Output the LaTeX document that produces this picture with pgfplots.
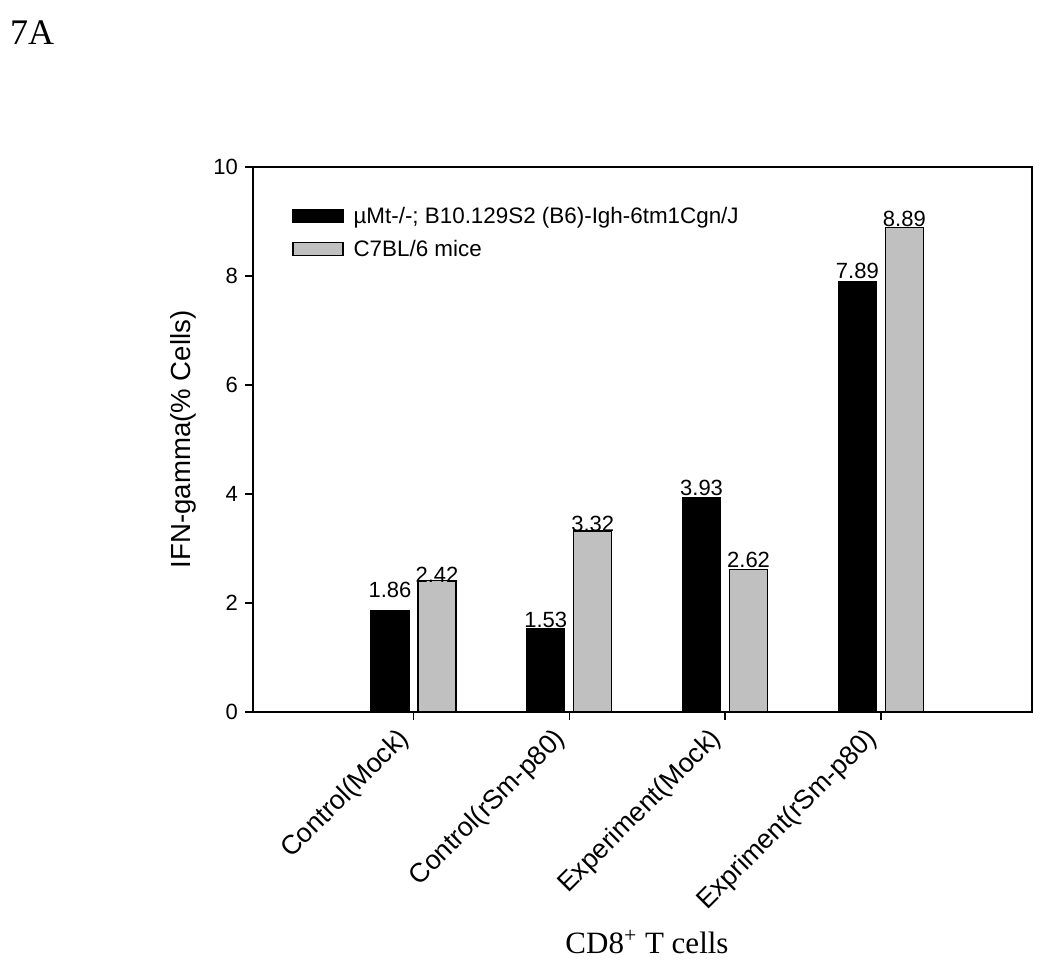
\documentclass[border=0pt]{standalone}
\usepackage{fontspec}
\setmainfont{Liberation Sans}
\newfontfamily\timesfont{Liberation Serif}
\usepackage{pgfplots}
\pgfplotsset{compat=1.18}
\definecolor{bargray}{RGB}{192,192,192}
\pgfplotstableread{
x y dy
1 1.86 6
2 1.53 0
3 3.93 0.5
4 7.89 1.5
}\blackdata
\pgfplotstableread{
x y dy
1 2.42 -1.5
2 3.32 -0.5
3 2.62 0.5
4 8.89 0
}\graydata
\begin{document}
\begin{tikzpicture}[x=1pt,y=1pt]
\path[use as bounding box] (0,0) rectangle (525,484);
\node[font=\timesfont\fontsize{18}{20}\selectfont] at (16,467.5) {7A};
\begin{axis}[
  at={(126.5pt,128pt)}, anchor=south west,
  scale only axis, width=389.5pt, height=272.5pt,
  xmin=-0.03, xmax=4.97, ymin=0, ymax=10,
  xtick={1,2,3,4},
  xticklabels={Control(Mock),Control(rSm-p80),Experiment(Mock),Expriment(rSm-p80)},
  ytick={0,2,4,6,8,10},
  xtick pos=bottom, ytick pos=left,
  tick align=outside, major tick length=4pt,
  axis line style={line width=0.8pt},
  every tick/.style={line width=0.7pt, black},
  /pgf/number format/assume math mode=true,
  yticklabel style={font=\fontsize{11}{13}\selectfont, xshift=0pt},
  xticklabel style={rotate=45, anchor=north east, font=\fontsize{13.4}{15}\selectfont, inner sep=1pt, xshift=-7pt, yshift=5pt},
  ylabel={IFN-gamma(\% Cells)},
  ylabel style={at={(axis description cs:-0.09,0.5)}, anchor=center, font=\fontsize{13.8}{16}\selectfont},
  ybar, bar width=19pt,
  legend style={draw=none, fill=none, at={(axis description cs:0.05,0.935)}, anchor=north west,
    inner sep=0pt, row sep=3pt, font=\fontsize{11.2}{13}\selectfont, legend cell align=left},
  legend image code/.code={\draw[#1, bar shift=0pt] (0pt,-3pt) rectangle (25pt,3.5pt); \path (28pt,0pt);},
  nodes near coords={\pgfmathprintnumber[fixed,fixed zerofill,precision=2]{\pgfplotspointmeta}},
  every node near coord/.append style={font=\fontsize{11}{13}\selectfont, anchor=south, inner sep=0pt, yshift=\dy pt},
  visualization depends on=\thisrow{dy}\as\dy,
]
\addplot[fill=black, draw=black, line width=0.6pt, bar shift=-11.75pt] table[x=x,y=y] {\blackdata};
\addlegendentry{µMt-/-; B10.129S2 (B6)-Igh-6tm1Cgn/J}
\addplot[fill=bargray, draw=black, line width=0.6pt, bar shift=11.75pt] table[x=x,y=y] {\graydata};
\addlegendentry{C7BL/6 mice}
\end{axis}
\node[font=\timesfont\fontsize{15.5}{18}\selectfont] at (323.5,13) {CD8\textsuperscript{+} T cells};
\end{tikzpicture}
\end{document}
